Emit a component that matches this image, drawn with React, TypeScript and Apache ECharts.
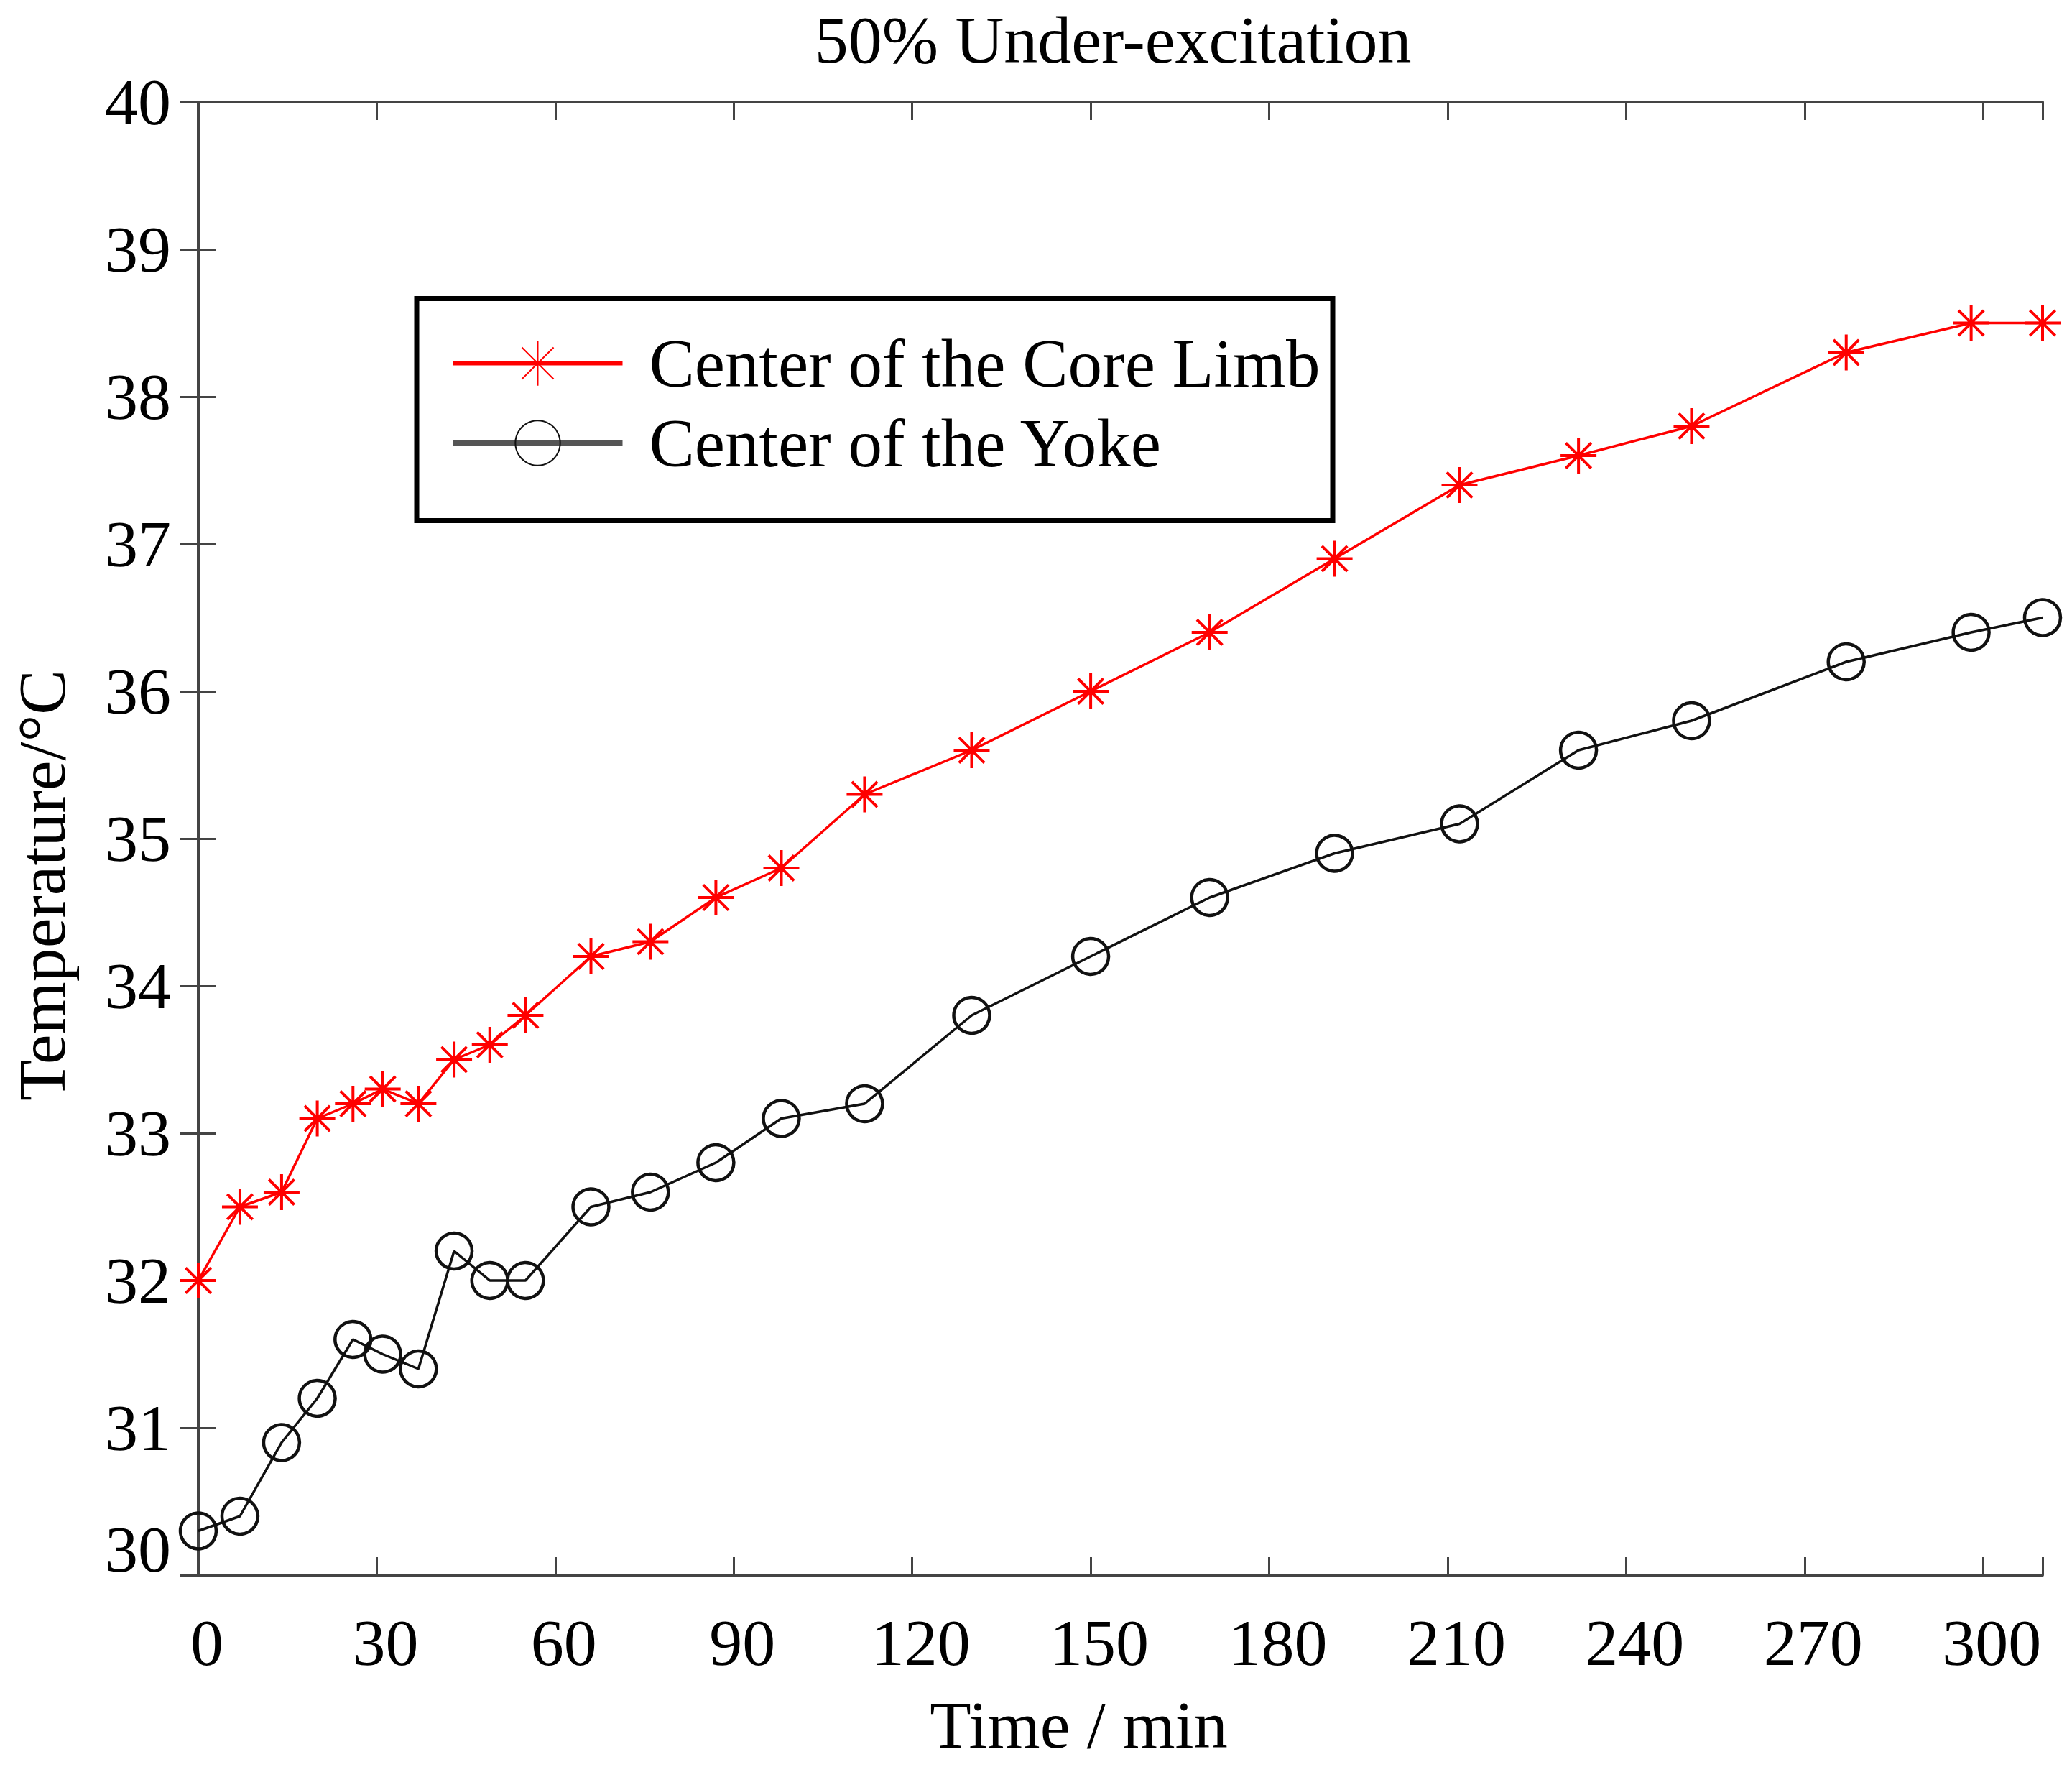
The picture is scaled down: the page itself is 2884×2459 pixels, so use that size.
import { useEffect, useRef } from 'react';
import * as echarts from 'echarts';

// time axis (min) and temperature readings (°C)
const times = [0, 7, 14, 20, 26, 31, 37, 43, 49, 55, 66, 76, 87, 98, 112, 130, 150, 170, 191, 212, 232, 251, 277, 298, 310];
const coreLimb = [32.0, 32.5, 32.6, 33.1, 33.2, 33.3, 33.2, 33.5, 33.6, 33.8, 34.2, 34.3, 34.6, 34.8, 35.3, 35.6, 36.0, 36.4, 36.9, 37.4, 37.6, 37.8, 38.3, 38.5, 38.5];
const yoke = [30.3, 30.4, 30.9, 31.2, 31.6, 31.5, 31.4, 32.2, 32.0, 32.0, 32.5, 32.6, 32.8, 33.1, 33.2, 33.8, 34.2, 34.6, 34.9, 35.1, 35.6, 35.8, 36.2, 36.4, 36.5];

const seriesNames = ['Center of the Core Limb', 'Center of the Yoke'];
const xRange = { min: 0, max: 310, interval: 30 };
const yRange = { min: 30, max: 40, interval: 1 };

const FONT = '"Liberation Serif", "Times New Roman", serif';
const AXIS_COLOR = '#444';
const ASTERISK = 'path://M0,-10L0,10M-10,0L10,0M-7.07,-7.07L7.07,7.07M-7.07,7.07L7.07,-7.07';

const App = () => {
  const chartRef = useRef<HTMLDivElement>(null);

  useEffect(() => {
    if (!chartRef.current) return;
    document.body.style.margin = '0';

    const chart = echarts.init(chartRef.current, undefined, { renderer: 'svg' });

    const axisLine = { show: true, lineStyle: { color: AXIS_COLOR, width: 4 } };
    const axisTick = { show: true, inside: true, length: 25, lineStyle: { color: AXIS_COLOR, width: 3 } };

    const option = {
      animation: false,
      backgroundColor: '#fff',
      title: {
        text: '50% Under-excitation',
        left: 1549,
        top: 8,
        padding: 0,
        textAlign: 'center',
        textVerticalAlign: 'top',
        textStyle: { fontFamily: FONT, fontSize: 94, fontWeight: 'normal', color: '#000' }
      },
      grid: { left: 276, right: 41, top: 142, bottom: 267 },
      legend: {
        orient: 'vertical',
        left: 580,
        top: 415,
        padding: [43, 0, 0, 46],
        itemWidth: 236,
        itemHeight: 78,
        itemGap: 16,
        selectedMode: false,
        textStyle: { fontFamily: FONT, fontSize: 95, color: '#000', padding: [0, 0, 0, 32] },
        data: [
          { name: seriesNames[0], lineStyle: { width: 6, color: '#ff0000' } },
          { name: seriesNames[1], lineStyle: { width: 9, color: '#555' } }
        ]
      },
      graphic: [
        {
          type: 'rect',
          shape: { x: 580, y: 415.5, width: 1275, height: 309 },
          style: { fill: 'rgba(0,0,0,0)', stroke: '#000', lineWidth: 7 },
          z: 10
        }
      ],
      xAxis: [
        {
          type: 'value',
          ...xRange,
          name: 'Time / min',
          nameLocation: 'middle',
          nameGap: 161,
          nameTextStyle: { fontFamily: FONT, fontSize: 94, color: '#000', padding: [0, 116, 0, 0] },
          axisLine,
          axisTick,
          splitLine: { show: false },
          axisLabel: {
            margin: 48,
            fontFamily: FONT,
            fontSize: 92,
            color: '#000',
            padding: [0, 0, 0, 24],
            formatter: (v: number) => (v % 30 === 0 ? String(v) : '')
          }
        },
        {
          type: 'value',
          position: 'top',
          ...xRange,
          axisLine,
          axisTick,
          axisLabel: { show: false },
          splitLine: { show: false }
        }
      ],
      yAxis: [
        {
          type: 'value',
          ...yRange,
          name: 'Temperature/°C',
          nameLocation: 'middle',
          nameGap: 171,
          nameTextStyle: { fontFamily: FONT, fontSize: 94, color: '#000', padding: [0, 130, 0, 0] },
          axisLine,
          axisTick,
          splitLine: { show: false },
          axisLabel: {
            margin: 38,
            fontFamily: FONT,
            fontSize: 92,
            color: '#000',
            formatter: (v: number) => (v === 30 ? `{low|${v}}` : String(v)),
            rich: {
              low: { fontFamily: FONT, fontSize: 92, color: '#000', padding: [0, 0, 72, 0] }
            }
          }
        },
        {
          type: 'value',
          position: 'right',
          ...yRange,
          axisLine,
          axisTick,
          axisLabel: { show: false },
          splitLine: { show: false }
        }
      ],
      series: [
        {
          name: seriesNames[0],
          type: 'line',
          data: times.map((t, i) => [t, coreLimb[i]]),
          symbol: ASTERISK,
          symbolSize: 50,
          clip: false,
          lineStyle: { color: '#ff0000', width: 3.5 },
          itemStyle: { color: '#ff0000', borderColor: '#ff0000', borderWidth: 4 }
        },
        {
          name: seriesNames[1],
          type: 'line',
          data: times.map((t, i) => [t, yoke[i]]),
          symbol: 'circle',
          symbolSize: 50,
          clip: false,
          lineStyle: { color: '#111', width: 3.5 },
          itemStyle: { color: 'rgba(0,0,0,0)', borderColor: '#111', borderWidth: 4.5 }
        }
      ]
    };

    chart.setOption(option);

    const handleResize = () => {
      chart.resize();
    };
    window.addEventListener('resize', handleResize);

    return () => {
      window.removeEventListener('resize', handleResize);
      chart.dispose();
    };
  }, []);

  return <div ref={chartRef} style={{ width: '2884px', height: '2459px' }} />;
};

export default App;
